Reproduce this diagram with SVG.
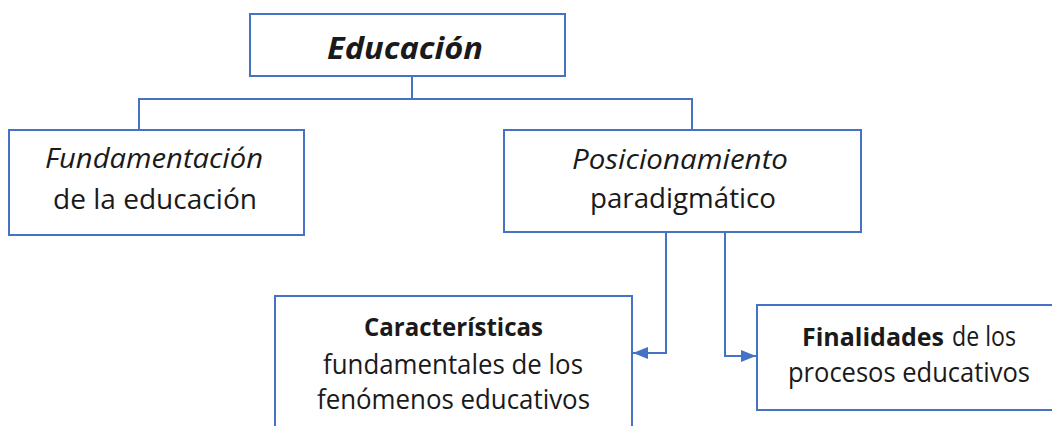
<svg xmlns="http://www.w3.org/2000/svg" width="1052" height="426" viewBox="0 0 1052 426">
<style>
.box{fill:#fff;stroke:#4472C4;stroke-width:2}
.con{fill:none;stroke:#4472C4;stroke-width:2}
.t{font-family:"Open Sans","Liberation Sans",sans-serif;font-size:27px;fill:#1a1a1a;text-anchor:middle}
.s{text-anchor:start}
.h{font-size:30px}
.i{font-style:italic}
.b{font-weight:bold;font-size:25px}
</style>
<defs>
<marker id="ah" markerUnits="userSpaceOnUse" markerWidth="16" markerHeight="12" refX="15" refY="6" orient="auto">
<path d="M0,0 L15,6 L0,12 Z" fill="#4472C4"/>
</marker>
</defs>
<rect width="1052" height="426" fill="#fff"/>
<g id="connectors">
<path class="con" d="M412,76 V99"/>
<path class="con" d="M139,130 V99 H692 V130"/>
<path class="con" d="M666,232 V353 H633" marker-end="url(#ah)"/>
<path class="con" d="M725,232 V356 H756" marker-end="url(#ah)"/>
</g>
<g id="educacion">
<rect class="box" x="250" y="14" width="315" height="62"/>
<text class="t h i b" x="405" y="59" style="font-size:30px" textLength="156" lengthAdjust="spacingAndGlyphs">Educación</text>
</g>
<g id="fundamentacion">
<rect class="box" x="9" y="130" width="295" height="105"/>
<text class="t i" x="154" y="168" textLength="218" lengthAdjust="spacingAndGlyphs">Fundamentación</text>
<text class="t" x="155" y="209" textLength="204" lengthAdjust="spacingAndGlyphs">de la educación</text>
</g>
<g id="posicionamiento">
<rect class="box" x="504" y="130" width="357" height="102"/>
<text class="t i" x="680" y="169" textLength="216" lengthAdjust="spacingAndGlyphs">Posicionamiento</text>
<text class="t" x="683" y="208" textLength="186" lengthAdjust="spacingAndGlyphs">paradigmático</text>
</g>
<g id="caracteristicas">
<rect class="box" x="275" y="296" width="357" height="200"/>
<text class="t b" x="453.5" y="336" textLength="179" lengthAdjust="spacingAndGlyphs">Características</text>
<text class="t" x="453" y="374" textLength="260" lengthAdjust="spacingAndGlyphs">fundamentales de los</text>
<text class="t" x="453.5" y="409" textLength="273" lengthAdjust="spacingAndGlyphs">fenómenos educativos</text>
</g>
<g id="finalidades">
<rect class="box" x="757" y="305" width="320" height="105"/>
<text class="t s" y="346"><tspan class="b" x="802" textLength="142" lengthAdjust="spacingAndGlyphs">Finalidades</tspan><tspan x="952" textLength="64" lengthAdjust="spacingAndGlyphs">de los</tspan></text>
<text class="t" x="909" y="382" textLength="242" lengthAdjust="spacingAndGlyphs">procesos educativos</text>
</g>
</svg>
